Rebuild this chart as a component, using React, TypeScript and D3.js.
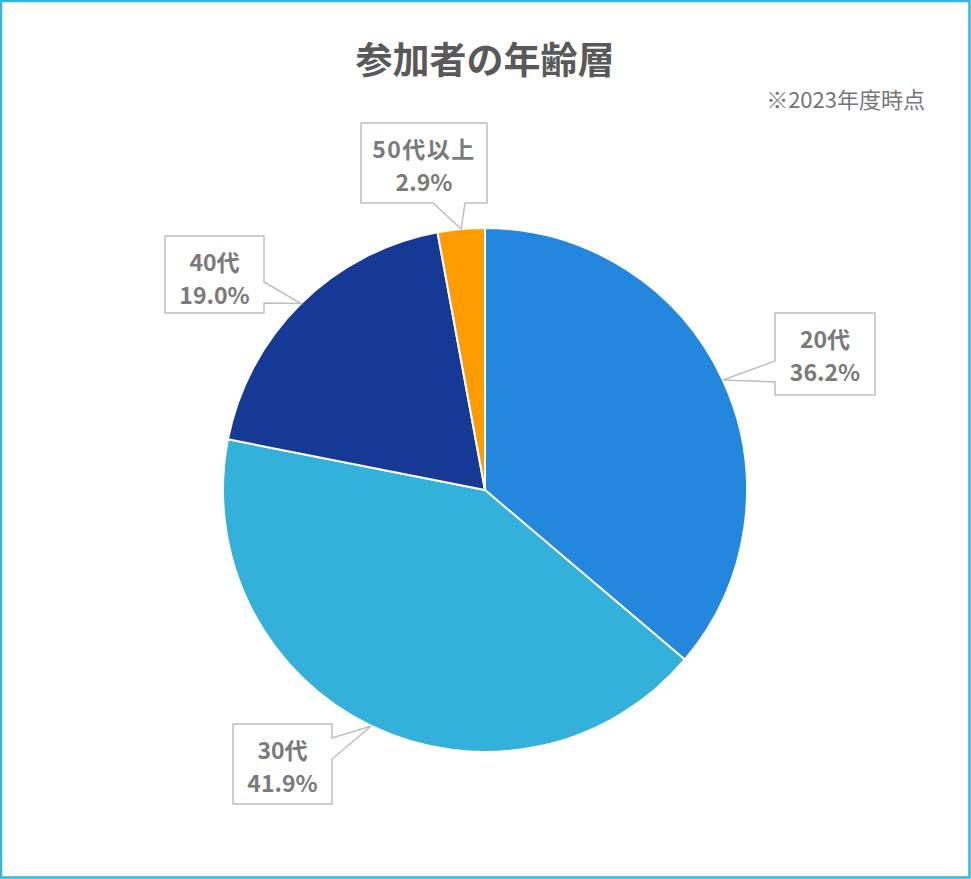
import React from "react";
import * as d3 from "d3";

const categories = ["20代", "30代", "40代", "50代以上"];
const values = [36.2, 41.9, 19.0, 2.9];
const colors = ["#2387de", "#33b1db", "#173996", "#ff9c00"];

const W = 971;
const H = 879;
const cx = 485;
const cy = 490;
const R = 262;

// callout layout: box + side of wedge + base offsets along that side
const callouts = [
  { x: 775, y: 313, w: 100, h: 82, side: "left", b0: 48, b1: 69 },
  { x: 233, y: 724, w: 99, h: 80, side: "right", b0: 14, b1: 35 },
  { x: 165, y: 236, w: 99, h: 77, side: "right", b0: 46, b1: 67 },
  { x: 361, y: 123, w: 126, h: 80, side: "bottom", b0: 72, b1: 104 },
];

function calloutPath(c: any, tip: [number, number]) {
  const { x, y, w, h, side, b0, b1 } = c;
  const p: string[] = [];
  p.push(`M${x},${y}`);
  p.push(`L${x + w},${y}`);
  if (side === "right") {
    p.push(`L${x + w},${y + b0}`);
    p.push(`L${tip[0]},${tip[1]}`);
    p.push(`L${x + w},${y + b1}`);
  }
  p.push(`L${x + w},${y + h}`);
  if (side === "bottom") {
    p.push(`L${x + b1},${y + h}`);
    p.push(`L${tip[0]},${tip[1]}`);
    p.push(`L${x + b0},${y + h}`);
  }
  p.push(`L${x},${y + h}`);
  if (side === "left") {
    p.push(`L${x},${y + b1}`);
    p.push(`L${tip[0]},${tip[1]}`);
    p.push(`L${x},${y + b0}`);
  }
  p.push("Z");
  return p.join("");
}

export default function App() {
  const pie = d3
    .pie<number>()
    .sort(null)
    .value((d) => d)
    .startAngle(0)
    .endAngle(2 * Math.PI);
  const arcs = pie(values);
  const arc = d3.arc<d3.PieArcDatum<number>>().innerRadius(0).outerRadius(R);
  const font = "'Noto Sans CJK JP', 'Noto Sans', sans-serif";

  return (
    <svg
      width={W}
      height={H}
      style={{ position: "absolute", left: 0, top: 0, display: "block" }}
      fontFamily={font}
    >
      <rect x={0} y={0} width={W} height={H} fill="#ffffff" />
      <rect
        x={1}
        y={1}
        width={W - 2.5}
        height={H - 2.5}
        fill="none"
        stroke="#35b5e0"
        strokeWidth={2.5}
      />
      <text
        x={cx}
        y={74}
        textAnchor="middle"
        fontSize={37}
        fontWeight="bold"
        fill="#595959"
      >
        参加者の年齢層
      </text>
      <text x={925} y={108} textAnchor="end" fontSize={22} fill="#767676">
        ※2023年度時点
      </text>
      <g transform={`translate(${cx},${cy})`}>
        {arcs.map((a, i) => (
          <path
            key={i}
            d={arc(a) || ""}
            fill={colors[i]}
            stroke="#ffffff"
            strokeWidth={2}
          />
        ))}
      </g>
      {arcs.map((a, i) => {
        const mid = (a.startAngle + a.endAngle) / 2;
        const tip: [number, number] = [
          cx + R * Math.sin(mid),
          cy - R * Math.cos(mid),
        ];
        const c = callouts[i];
        const tx = c.x + c.w / 2;
        return (
          <g key={i}>
            <path
              d={calloutPath(c, tip)}
              fill="#ffffff"
              stroke="#bfbfbf"
              strokeWidth={1.5}
            />
            <text
              x={tx}
              y={c.y + 35}
              textAnchor="middle"
              fontSize={23}
              fontWeight="bold"
              fill="#7a7a7a"
              letterSpacing={i === 3 ? 1.5 : 0}
            >
              {categories[i]}
            </text>
            <text
              x={tx}
              y={c.y + 68}
              textAnchor="middle"
              fontSize={23}
              fontWeight="bold"
              fill="#7a7a7a"
            >
              {values[i].toFixed(1)}%
            </text>
          </g>
        );
      })}
    </svg>
  );
}
